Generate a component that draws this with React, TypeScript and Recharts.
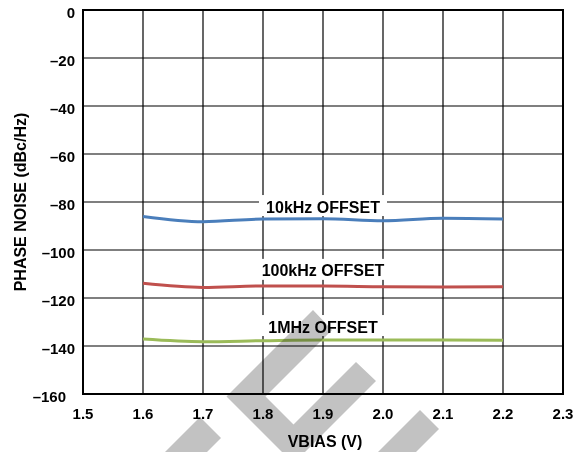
import React from 'react';
import {
    ComposedChart,
    Line,
    XAxis,
    YAxis,
    CartesianGrid,
    ReferenceDot,
    ReferenceArea,
} from 'recharts';

// supply voltage sweep (V)
const vbias = [1.6, 1.7, 1.8, 1.9, 2.0, 2.1, 2.2];
// phase noise, dBc/Hz
const offset10k = [-86, -88.2, -87.1, -87, -87.8, -86.8, -87.1];
const offset100k = [-113.9, -115.6, -115, -115, -115.3, -115.4, -115.3];
const offset1M = [-137.1, -138.2, -137.8, -137.5, -137.5, -137.5, -137.6];

const xTicks = [1.5, 1.6, 1.7, 1.8, 1.9, 2.0, 2.1, 2.2, 2.3];
const yTicks = [0, -20, -40, -60, -80, -100, -120, -140, -160];

const seriesLabels = ['10kHz OFFSET', '100kHz OFFSET', '1MHz OFFSET'];
const labelX = 1.9;
const labelY = [-82.1, -108.7, -132.1];

const FONT = '"Liberation Sans", Arial, Helvetica, sans-serif';

const data = vbias.map((v, i) => ({
    vbias: v,
    n10k: offset10k[i],
    n100k: offset100k[i],
    n1M: offset1M[i],
}));

const fmtY = (v: number) => (v < 0 ? '\u2013' + Math.abs(v) : String(v));

function YTick({ x, y, payload }: any) {
    const v = payload.value;
    return (
        <text
            x={v === -160 ? x - 9 : x}
            y={y + 2}
            textAnchor="end"
            dominantBaseline="central"
            fontFamily={FONT}
            fontWeight="bold"
            fontSize={15}
            fill="#000"
        >
            {fmtY(v)}
        </text>
    );
}

function OffsetLabel(text: string) {
    return (props: any) => {
        const { cx, cy } = props;
        return (
            <g>
                <rect x={cx - 64} y={cy - 12} width={128} height={21} fill="#fff" />
                <text
                    x={cx}
                    y={cy}
                    textAnchor="middle"
                    dominantBaseline="central"
                    fontFamily={FONT}
                    fontWeight="bold"
                    fontSize={16}
                    fill="#000"
                >
                    {text}
                </text>
            </g>
        );
    };
}

// faint logo stamped behind the plot
function Watermark() {
    return (
        <svg
            width={584}
            height={452}
            style={{ position: 'absolute', left: 0, top: 0, pointerEvents: 'none', mixBlendMode: 'multiply' }}
        >
            <g fill="#c2c2c2">
                <polygon points="313,310 332,330 265.5,396.5 293.5,424.5 356,362 376,381 293.5,463.5 226.5,396.5" />
                <polygon points="420,410 439,429 416,452 378,452" />
                <polygon points="200,417 221,438 207,452 165,452" />
            </g>
        </svg>
    );
}

export default function App() {
    return (
        <div style={{ position: 'absolute', left: 0, top: 0, width: 584, height: 452, background: '#fff' }}>
            <ComposedChart
                width={584}
                height={452}
                data={data}
                margin={{ top: 10, right: 21, left: 0, bottom: 0 }}
            >
                <CartesianGrid stroke="#000" strokeWidth={1.2} />
                <ReferenceArea x1={1.5} x2={2.3} y1={-160} y2={0} fill="none" stroke="#000" strokeWidth={2} />
                <XAxis
                    dataKey="vbias"
                    type="number"
                    domain={[1.5, 2.3]}
                    ticks={xTicks}
                    tickFormatter={(v: number) => v.toFixed(1)}
                    tickLine={false}
                    tickSize={0}
                    tickMargin={14}
                    height={58}
                    axisLine={{ stroke: '#000', strokeWidth: 2 }}
                    tick={{ fill: '#000', fontFamily: FONT, fontWeight: 'bold', fontSize: 15 }}
                    interval={0}
                    label={{
                        content: ({ viewBox }: any) => (
                            <text
                                x={viewBox.x + viewBox.width / 2 + 2}
                                y={viewBox.y + 53}
                                textAnchor="middle"
                                fontFamily={FONT}
                                fontWeight="bold"
                                fontSize={16}
                                fill="#000"
                            >
                                VBIAS (V)
                            </text>
                        ),
                    }}
                />
                <YAxis
                    type="number"
                    domain={[-160, 0]}
                    ticks={yTicks}
                    tickLine={false}
                    tickSize={0}
                    tickMargin={8}
                    width={83}
                    axisLine={{ stroke: '#000', strokeWidth: 2 }}
                    tick={<YTick />}
                    interval={0}
                    label={{
                        content: ({ viewBox }: any) => {
                            const cx = 20;
                            const cy = viewBox.y + viewBox.height / 2;
                            return (
                                <text
                                    x={cx}
                                    y={cy}
                                    transform={`rotate(-90 ${cx} ${cy})`}
                                    textAnchor="middle"
                                    dominantBaseline="central"
                                    fontFamily={FONT}
                                    fontWeight="bold"
                                    fontSize={16}
                                    fill="#000"
                                >
                                    PHASE NOISE (dBc/Hz)
                                </text>
                            );
                        },
                    }}
                />
                {seriesLabels.map((t, i) => (
                    <ReferenceDot key={t} x={labelX} y={labelY[i]} r={0} shape={OffsetLabel(t)} />
                ))}
                <Line type="monotone" dataKey="n10k" stroke="#4a7ebb" strokeWidth={3} dot={false} isAnimationActive={false} />
                <Line type="monotone" dataKey="n100k" stroke="#c0504d" strokeWidth={3} dot={false} isAnimationActive={false} />
                <Line type="monotone" dataKey="n1M" stroke="#9bbb59" strokeWidth={3} dot={false} isAnimationActive={false} />
            </ComposedChart>
            <Watermark />
        </div>
    );
}
